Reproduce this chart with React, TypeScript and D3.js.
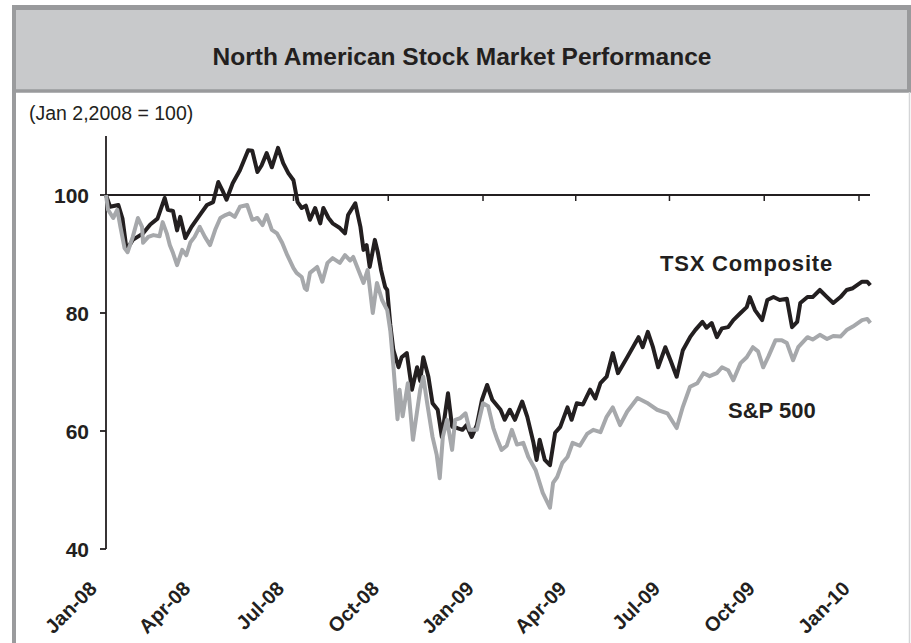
import React from "react";
import * as d3 from "d3";

const TITLE = "North American Stock Market Performance";
const SUBTITLE = "(Jan 2,2008 = 100)";
const SERIES_NAMES = ["TSX Composite", "S&P 500"];
const Y_TICKS = [40, 60, 80, 100];
const X_TICK_LABELS = ["Jan-08", "Apr-08", "Jul-08", "Oct-08", "Jan-09", "Apr-09", "Jul-09", "Oct-09", "Jan-10"];

// Observations: days after Jan 1, 2008, and index level (Jan 2, 2008 = 100)
const TSX_DAY = [
  0, 4, 12, 16, 20, 26, 36, 43, 50, 57,
  60, 65, 69, 72, 77, 83, 91, 98, 104, 109,
  113, 117, 123, 130, 138, 142, 147, 151, 156, 161,
  167, 172, 177, 182, 186, 190, 194, 198, 203, 208,
  211, 216, 220, 227, 232, 235, 242, 247, 250, 253,
  256, 261, 264, 267, 271, 273, 276, 279, 284, 287,
  292, 297, 302, 305, 308, 313, 317, 322, 326, 332,
  336, 341, 346, 350, 355, 360, 365, 370, 375, 383,
  387, 392, 397, 404, 409, 415, 418, 421, 426, 431,
  436, 441, 448, 452, 457, 463, 470, 475, 480, 486,
  492, 497, 506, 517, 521, 526, 531, 536, 543, 548,
  554, 560, 567, 572, 579, 583, 588, 593, 598, 604,
  609, 616, 622, 625, 630, 637, 642, 648, 654, 661,
  666, 671, 674, 681, 686, 693, 700, 706, 713, 719,
  725, 734, 739, 742,
];
const TSX_VAL = [
  100, 98, 98.3, 96, 90.7, 92.4, 93.5, 95, 96, 99.5,
  97.5, 97.3, 94, 96.3, 92.7, 94.6, 96.6, 98.3, 98.8, 102.2,
  100.8, 99.2, 102, 104.2, 107.6, 107.5, 103.9, 105, 107.1, 104.7,
  108, 105.4, 103.7, 102.5, 98.8, 97.8, 98.2, 95.8, 97.8, 95.2,
  97.8, 96.1, 95.2, 94.4, 93.5, 96.6, 98.6, 94.6, 90.7, 91.5,
  87.8, 92.4, 90.2, 87.3, 84.4, 83.9, 78, 73.7, 70.8, 72.5,
  73.2, 67, 70.8, 68.5, 72.5, 69.2, 64.7, 63.6, 59, 66.4,
  60.7, 60.5, 60.2, 61, 59, 61, 65.3, 67.8, 65.3, 63.6,
  61.9, 63.6, 61.9, 65, 62.4, 58, 55.1, 58.5, 55.1, 54.2,
  59.7, 60.7, 64, 61.9, 64.7, 64.5, 67, 65.5, 68.1, 69.2,
  73.2, 69.8, 72.5, 75.9, 74.2, 76.8, 74.2, 70.8, 74.2, 72,
  69.2, 73.7, 75.9, 77.1, 78.5, 77.5, 78.3, 75.9, 77.4, 77.6,
  78.8, 80, 81, 82.7, 80.5, 78.8, 82.2, 82.7, 82.2, 82.4,
  77.6, 78.5, 81.7, 82.7, 82.7, 83.9, 82.7, 81.7, 82.7, 83.9,
  84.2, 85.3, 85.3, 84.7,
];
const SP_DAY = [
  0, 2, 7, 11, 14, 18, 21, 26, 31, 35,
  36, 41, 46, 52, 55, 59, 62, 65, 69, 74,
  78, 82, 86, 91, 96, 101, 106, 111, 116, 120,
  125, 130, 137, 142, 147, 152, 156, 161, 166, 171,
  176, 182, 185, 190, 193, 195, 198, 205, 210, 215,
  220, 227, 232, 237, 240, 245, 250, 254, 259, 263,
  268, 273, 276, 279, 283, 285, 288, 293, 298, 305,
  308, 312, 317, 321, 324, 327, 331, 336, 339, 344,
  349, 353, 360, 366, 371, 376, 380, 384, 389, 394,
  399, 405, 410, 417, 424, 431, 434, 438, 443, 448,
  453, 460, 467, 473, 480, 486, 492, 499, 506, 516,
  525, 535, 545, 554, 560, 567, 574, 580, 586, 593,
  598, 604, 609, 616, 622, 628, 633, 638, 643, 650,
  656, 661, 667, 672, 681, 686, 693, 700, 706, 713,
  719, 725, 734, 739, 742,
];
const SP_VAL = [
  100, 97.5, 96.1, 97.5, 94.6, 91, 90.3, 92.9, 96.1, 94.6,
  91.9, 92.9, 93.2, 93, 95.4, 93.5, 91.5, 90.2, 88.1, 90.7,
  89.8, 92, 92.9, 94.6, 92.9, 91.5, 94.1, 96.1, 96.6, 96.9,
  96.3, 98, 98.3, 95.8, 96.1, 94.9, 96.6, 94.1, 93.5, 91.9,
  89.8, 87.6, 86.8, 86.1, 84.2, 83.9, 86.8, 87.8, 85.3, 88.5,
  89.3, 88.5, 89.8, 88.9, 89.5, 87.3, 85.1, 87.3, 80, 85.1,
  82.2, 80.5, 77, 71, 62, 67, 62.5, 68.1, 58.5, 67,
  69.2, 64.5, 59, 56, 52, 59, 61.9, 56.8, 61.9, 62.2,
  63, 60.2, 60.2, 64.7, 64.2, 60.5, 58.5, 56.8, 57.5, 60.2,
  57.7, 58, 55.6, 53.4, 49.5, 47, 51.2, 52.2, 54.6, 55.6,
  58, 57.5, 59.5, 60.2, 59.8, 62.4, 64, 61, 63.3, 65.6,
  64.8, 63.6, 63, 60.5, 64.1, 67.5, 68.1, 69.8, 69.3, 69.8,
  70.8, 70.3, 68.6, 71.5, 72.5, 74.2, 73.5, 70.8, 72.6, 75.4,
  75.4, 74.9, 72, 74.2, 75.9, 75.5, 76.3, 75.6, 76.1, 76,
  77.1, 77.7, 78.8, 79, 78.3,
];

const W = 911;
const H = 643;
const FONT = "'Liberation Sans', Arial, Helvetica, sans-serif";

export default function App() {
  const origin = new Date(2008, 0, 1);
  const x = d3.scaleTime().domain([origin, new Date(2010, 0, 1)]).range([106, 859]);
  const y = d3.scaleLinear().domain([40, 110]).range([549, 136]);
  const tickDates = d3.timeMonth.every(3)!.range(origin, new Date(2010, 0, 2));

  const toPoints = (days: number[], vals: number[]) =>
    days.map((d, i) => ({ date: d3.timeDay.offset(origin, d), v: vals[i] }));
  const tsx = toPoints(TSX_DAY, TSX_VAL);
  const sp = toPoints(SP_DAY, SP_VAL);

  const line = d3
    .line<{ date: Date; v: number }>()
    .x((d) => x(d.date))
    .y((d) => y(d.v));

  return (
    <svg width={W} height={H} style={{ position: "absolute", left: 0, top: 0, background: "#fff" }} fontFamily={FONT}>
      {/* frame */}
      <rect x={0} y={0} width={W} height={H} fill="#fff" />
      <rect x={14} y={8} width={895} height={83} fill="#c8c9cb" />
      <line x1={12} x2={911} y1={7.5} y2={7.5} stroke="#999a9c" strokeWidth={5} />
      <line x1={12} x2={911} y1={91} y2={91} stroke="#999a9c" strokeWidth={3.5} />
      <line x1={909} x2={909} y1={5} y2={92} stroke="#999a9c" strokeWidth={4} />
      <line x1={909.5} x2={909.5} y1={92} y2={H} stroke="#d4d5d7" strokeWidth={1.5} />
      <line x1={14} x2={14} y1={5} y2={H} stroke="#9a9b9d" strokeWidth={4} />

      <text x={462} y={65} textAnchor="middle" fontSize={24.5} fontWeight="bold" fill="#231f20">
        {TITLE}
      </text>
      <text x={29} y={120} fontSize={19.5} fill="#231f20">
        {SUBTITLE}
      </text>

      {/* y axis */}
      <line x1={106} x2={106} y1={y(110)} y2={y(40)} stroke="#231f20" strokeWidth={1.8} />
      {Y_TICKS.map((t) => (
        <g key={t}>
          <line x1={100} x2={106} y1={y(t)} y2={y(t)} stroke="#231f20" strokeWidth={1.8} />
          <text x={89} y={y(t)} dy="0.36em" textAnchor="end" fontSize={21} fontWeight="bold" fill="#231f20">
            {t}
          </text>
        </g>
      ))}

      {/* x axis at 100 */}
      <line x1={106} x2={870} y1={y(100)} y2={y(100)} stroke="#231f20" strokeWidth={1.8} />
      {tickDates.map((d, i) => (
        <g key={i}>
          <line x1={x(d)} x2={x(d)} y1={y(100)} y2={y(100) + 6} stroke="#231f20" strokeWidth={1.5} />
          <text
            transform={`translate(${x(d) - 8},${590}) rotate(-45)`}
            textAnchor="end"
            fontSize={20}
            fontWeight="bold"
            fill="#231f20"
          >
            {X_TICK_LABELS[i]}
          </text>
        </g>
      ))}

      {/* series */}
      <path d={line(tsx) || ""} fill="none" stroke="#231f20" strokeWidth={4} strokeLinejoin="round" />
      <path d={line(sp) || ""} fill="none" stroke="#a6a8ab" strokeWidth={4} strokeLinejoin="round" />

      <text x={660} y={271} fontSize={22} fontWeight="bold" letterSpacing={0.8} fill="#231f20">
        {SERIES_NAMES[0]}
      </text>
      <text x={728} y={418} fontSize={22} fontWeight="bold" fill="#231f20">
        {SERIES_NAMES[1]}
      </text>
    </svg>
  );
}
